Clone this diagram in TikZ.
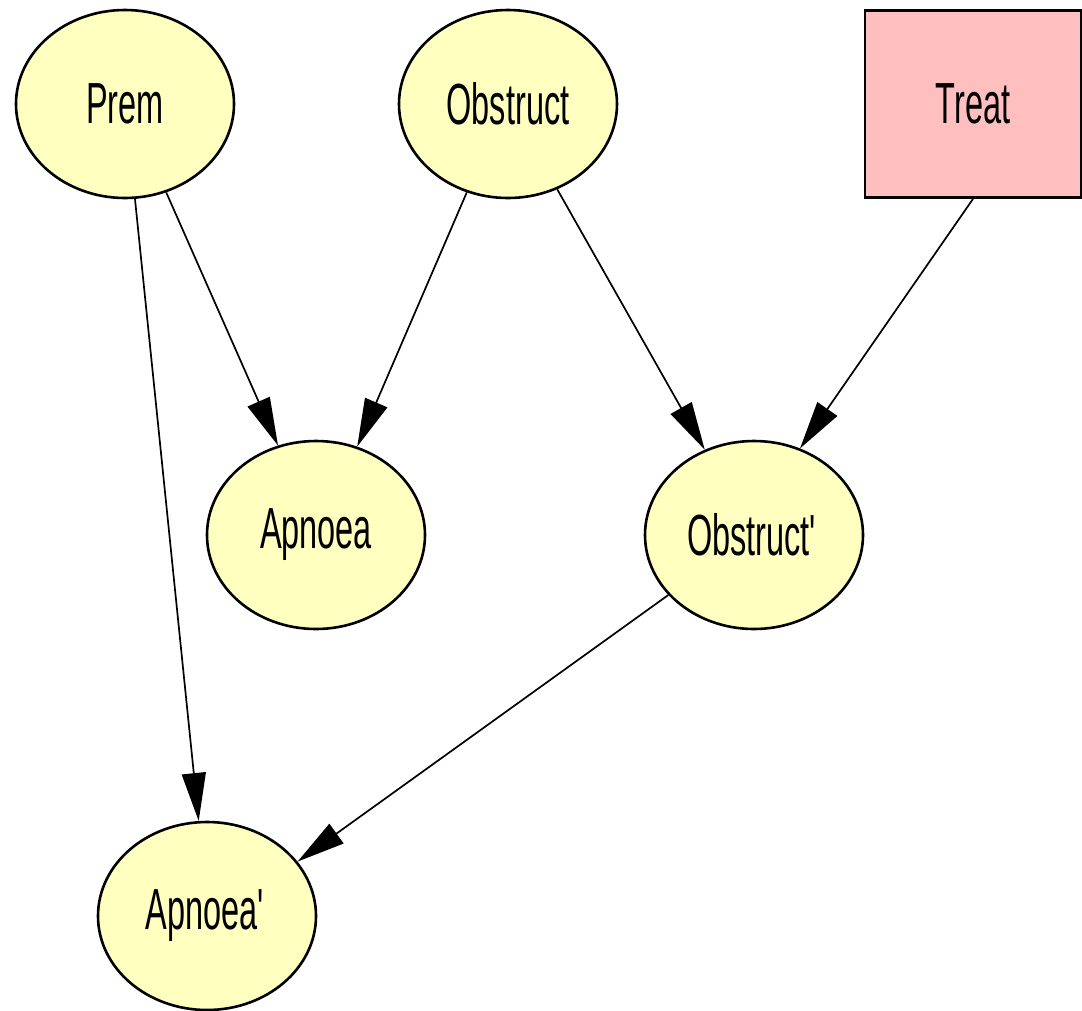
\documentclass[tikz,border=0pt]{standalone}
\usepackage{fontspec}
\setmainfont[FakeStretch=0.56]{Liberation Sans}
\usetikzlibrary{shapes.geometric,arrows.meta}
\definecolor{nodeyellow}{HTML}{FFFFC0}
\definecolor{nodepink}{HTML}{FFBFBF}
\begin{document}
\begin{tikzpicture}[x=1pt,y=1pt,
  chance/.style={ellipse,draw=black,line width=2.6pt,fill=nodeyellow,minimum width=218pt,minimum height=188pt,inner sep=0pt,font=\fontsize{58}{60}\selectfont},
  decision/.style={rectangle,draw=black,line width=2.8pt,fill=nodepink,minimum width=216pt,minimum height=187pt,inner sep=0pt,font=\fontsize{58}{60}\selectfont},
  link/.style={line width=1.7pt,-{Triangle[length=48pt,width=24pt]}}]
\useasboundingbox (0,0) rectangle (1082,-1010);
\fill[white] (0,0) rectangle (1082,-1010);
\node[chance] (prem) at (125,-104) {Prem};
\node[chance] (obs) at (508,-104) {Obstruct};
\node[decision] (treat) at (973,-104) {Treat};
\node[chance] (apn) at (316,-535) {Apnoea};
\node[chance] (obs2) at (754,-535) {Obstruct\textquotesingle};
\node[chance] (apn2) at (207,-916) {Apnoea\textquotesingle};
\draw[link] (prem.-65) -- (apn.113);
\draw[link] (prem.-84) -- (apn2.95);
\draw[link] (obs.-115) -- (apn.65);
\draw[link] (obs.-60) -- (obs2.120);
\draw[link] (treat.south) -- (obs2.62);
\draw[link] (obs2.-145) -- (apn2.31);
\end{tikzpicture}
\end{document}
